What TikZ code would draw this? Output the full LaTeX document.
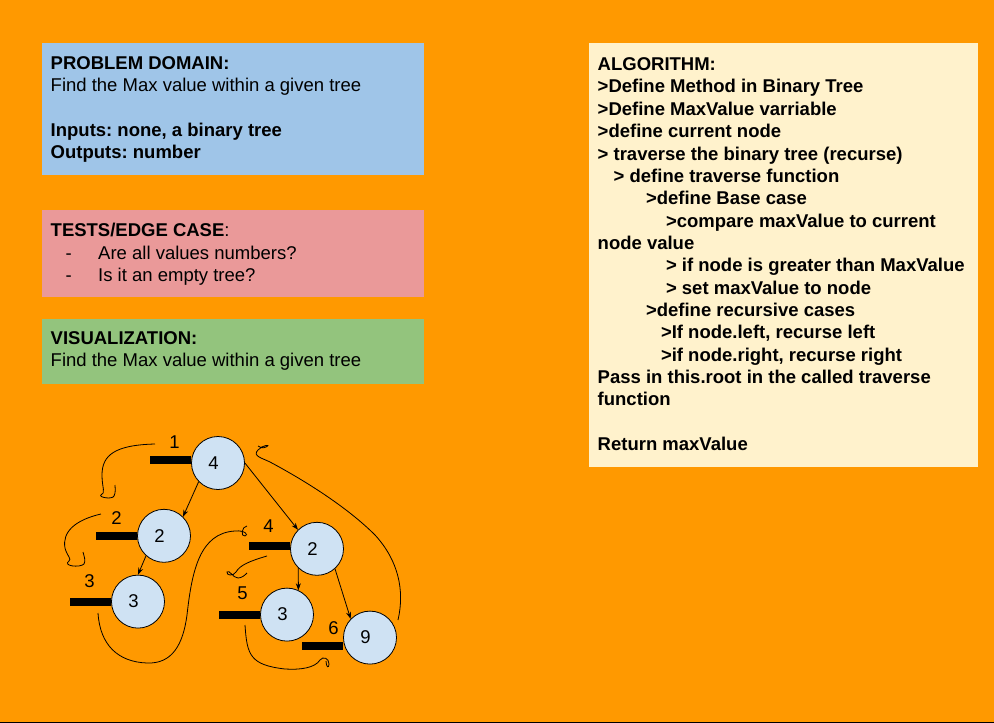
\documentclass[tikz,border=0pt]{standalone}
\usepackage{fontspec}
\setmainfont{Liberation Sans}
\usepackage{tikz}
\usetikzlibrary{arrows.meta,positioning}
\pgfdeclarelayer{background}
\pgfsetlayers{background,main}
\definecolor{orange}{RGB}{255,153,0}
\definecolor{domainblue}{RGB}{159,197,232}
\definecolor{testred}{RGB}{234,153,153}
\definecolor{visgreen}{RGB}{147,196,125}
\definecolor{algocream}{RGB}{255,242,204}
\definecolor{nodeblue}{RGB}{207,226,243}
\frenchspacing

\begin{document}
\begin{tikzpicture}[x=1pt,y=-1pt]

		\def\fs{\fontsize{18.5}{22.35}\selectfont}

		\tikzset{line/.style={draw,line width=0.8pt}}
		\tikzset{arrow/.style={line,-{Stealth[length=7pt,width=5pt]}}}
		\tikzset{scribble/.style={draw,line width=0.8pt}}
		\tikzset{panel/.style={anchor=north west,inner sep=0pt}}
		\tikzset{txt/.style={anchor=base west,inner sep=0pt,font=\fs}}
		\tikzset{vertex/.style={shape=circle,draw,fill=nodeblue,inner sep=0pt,minimum size=53pt,line width=0.8pt,font=\fs,execute at end node={\hspace*{9pt}}}}
		\tikzset{stick/.style={fill=black,inner sep=0pt,minimum width=41pt,minimum height=8pt}}
		\tikzset{step label/.style={inner sep=0pt,font=\fs}}

		\useasboundingbox (0,0) rectangle (994,723);

		\begin{pgfonlayer}{background}
			\fill[orange] (0,0) rectangle (994,723);
			\fill[black] (0,722) rectangle (994,723);
		\end{pgfonlayer}

		% panels
		\node[panel, fill=domainblue, minimum width=382pt, minimum height=132pt] (domain) at (42,43) {};
		\node[panel, fill=testred, minimum width=382pt, minimum height=87pt] (tests) at (42,210) {};
		\node[panel, fill=visgreen, minimum width=382pt, minimum height=65pt] (visual) at (42,318.5) {};
		\node[panel, fill=algocream, minimum width=389pt, minimum height=424pt] (algo) at (588.5,43) {};

		\node[txt] (dom1) at (50.5,69.3) {\textbf{PROBLEM DOMAIN:}};
		\node[txt] (dom2) at (50.5,91.7) {Find the Max value within a given tree};
		\node[txt] (dom3) at (50.5,136.4) {\textbf{Inputs: none, a binary tree}};
		\node[txt] (dom4) at (50.5,158.7) {\textbf{Outputs: number}};

		\node[txt] (test1) at (50.5,236.7) {\textbf{TESTS/EDGE CASE}:};
		\node[txt] (dash1) at (65.5,259) {-};
		\node[txt] (test2) at (98,259) {Are all values numbers?};
		\node[txt] (dash2) at (65.5,281.4) {-};
		\node[txt] (test3) at (98,281.4) {Is it an empty tree?};

		\node[txt] (vis1) at (50.5,344.3) {\textbf{VISUALIZATION:}};
		\node[txt] (vis2) at (50.5,366.7) {Find the Max value within a given tree};

		\node[txt, font=\fs\bfseries] (alg1) at (597.5,70.6) {ALGORITHM:};
		\node[txt, font=\fs\bfseries] (alg2) at (597.5,92.95) {>Define Method in Binary Tree};
		\node[txt, font=\fs\bfseries] (alg3) at (597.5,115.3) {>Define MaxValue varriable};
		\node[txt, font=\fs\bfseries] (alg4) at (597.5,137.65) {>define current node};
		\node[txt, font=\fs\bfseries] (alg5) at (597.5,160) {> traverse the binary tree (recurse)};
		\node[txt, font=\fs\bfseries] (alg6) at (613.5,182.35) {> define traverse function};
		\node[txt, font=\fs\bfseries] (alg7) at (645.8,204.7) {>define Base case};
		\node[txt, font=\fs\bfseries] (alg8) at (665.8,227.05) {>compare maxValue to current};
		\node[txt, font=\fs\bfseries] (alg9) at (597.5,249.4) {node value};
		\node[txt, font=\fs\bfseries] (alg10) at (665.8,271.75) {> if node is greater than MaxValue};
		\node[txt, font=\fs\bfseries] (alg11) at (665.8,294.1) {> set maxValue to node};
		\node[txt, font=\fs\bfseries] (alg12) at (645.8,316.45) {>define recursive cases};
		\node[txt, font=\fs\bfseries] (alg13) at (660.8,338.8) {>If node.left, recurse left};
		\node[txt, font=\fs\bfseries] (alg14) at (660.8,361.15) {>if node.right, recurse right};
		\node[txt, font=\fs\bfseries] (alg15) at (597.5,383.5) {Pass in this.root in the called traverse};
		\node[txt, font=\fs\bfseries] (alg16) at (597.5,405.85) {function};
		\node[txt, font=\fs\bfseries] (alg17) at (597.5,450.55) {Return maxValue};

		% tree
		\node[vertex] (root) at (218,463) {4};
		\node[vertex, below=19pt of root, xshift=-54pt] (l2) {2};
		\node[vertex, below=12pt of l2, xshift=-26pt] (l3) {3};
		\node[vertex, below=32pt of root, xshift=99pt] (r2) {2};
		\node[vertex, below=12pt of r2, xshift=-30pt] (r3) {3};
		\node[vertex, below=35pt of r2, xshift=53pt] (n9) {9};

		\begin{pgfonlayer}{background}
			\node[stick, left=0pt of root, yshift=3pt] (stick1) {};
			\node[stick, left=0pt of l2] (stick2) {};
			\node[stick, left=0pt of l3] (stick3) {};
			\node[stick, left=0pt of r2, yshift=3pt] (stick4) {};
			\node[stick, left=0pt of r3] (stick5) {};
			\node[stick, left=0pt of n9, yshift=-8pt] (stick6) {};
		\end{pgfonlayer}

		\node[step label, above=7pt of stick1, xshift=4pt] (lab1) {1};
		\node[step label, above=7pt of stick2] (lab2) {2};
		\node[step label, above=10pt of stick3, xshift=-1pt] (lab3) {3};
		\node[step label, above=9pt of stick4, xshift=-1pt] (lab4) {4};
		\node[step label, above=11pt of stick5, xshift=3pt] (lab5) {5};
		\node[step label, above=7pt of stick6, xshift=11pt] (lab6) {6};

		\path[arrow] (root.224) to (l2.45);
		\path[arrow] (root.east) to (r2.north west);
		\path[arrow] (l2.228) to (l3.north);
		\path[arrow] (r2.226) to (r3.65);
		\path[arrow] (r2.312) to (n9.136);

		% hand drawn traversal marks
		\draw[scribble] (155,444) .. controls (115,445) and (102,455) .. (102,475)
			.. controls (102,488) and (106,493) .. (101,495)
			.. controls (98,497) and (112,500) .. (114,496)
			.. controls (116,492) and (115,488) .. (115,485);
		\draw[scribble] (101,514) .. controls (75,520) and (62,532) .. (65,548)
			.. controls (67,556) and (72,559) .. (69,561)
			.. controls (62,566) and (80,568) .. (84,564)
			.. controls (86,561) and (84,556) .. (83,552);
		\draw[scribble] (98,613) .. controls (100,645) and (118,662) .. (147,663)
			.. controls (172,664) and (183,645) .. (187,615)
			.. controls (192,570) and (200,533) .. (235,531)
			.. controls (245,530) and (249,535) .. (245,536)
			.. controls (240,537) and (242,526) .. (247,526);
		\draw[scribble] (267,556) .. controls (250,561) and (240,565) .. (236,572)
			.. controls (233,577) and (226,575) .. (227,572)
			.. controls (229,569) and (233,578) .. (238,578)
			.. controls (242,578) and (245,575) .. (247,573);
		\draw[scribble] (245,625) .. controls (247,655) and (250,665) .. (285,669)
			.. controls (300,670) and (315,668) .. (320,660)
			.. controls (323,656) and (329,658) .. (329,664)
			.. controls (329,669) and (326,667) .. (326,661);
		\draw[scribble] (398,620) .. controls (405,590) and (398,560) .. (375,535)
			.. controls (345,505) and (300,478) .. (270,462)
			.. controls (262,458) and (252,456) .. (258,450)
			.. controls (262,445) and (272,444) .. (266,447)
			.. controls (262,449) and (260,447) .. (258,446);

\end{tikzpicture}
\end{document}
